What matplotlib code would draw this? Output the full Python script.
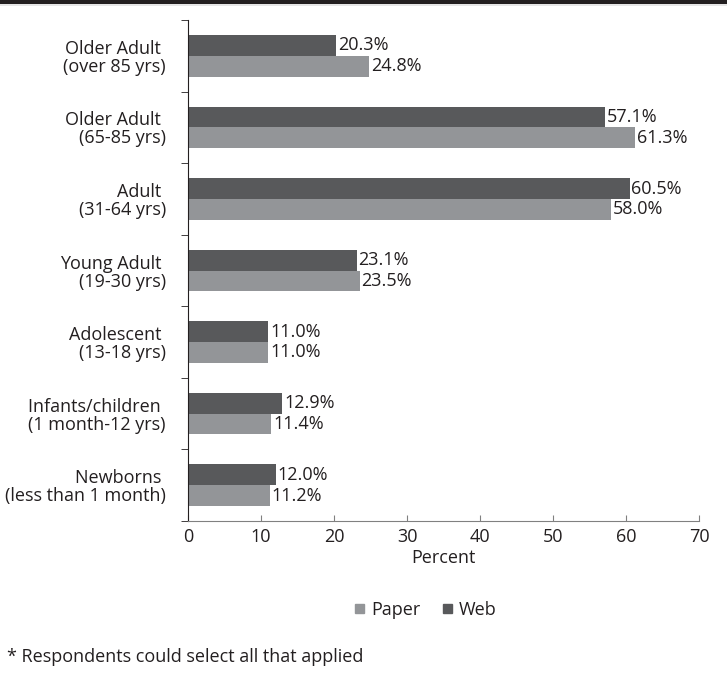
import matplotlib
matplotlib.use("Agg")
import matplotlib.pyplot as plt
from matplotlib.patches import Rectangle, Patch
import numpy as np

plt.rcParams["font.family"] = ["Open Sans", "DejaVu Sans"]
plt.rcParams["font.size"] = 13

categories = [
    "Older Adult \n(over 85 yrs)",
    "Older Adult \n(65-85 yrs)",
    "Adult \n(31-64 yrs)",
    "Young Adult \n(19-30 yrs)",
    "Adolescent \n(13-18 yrs)",
    "Infants/children \n(1 month-12 yrs)",
    "Newborns \n(less than 1 month)",
]
web = [20.3, 57.1, 60.5, 23.1, 11.0, 12.9, 12.0]
paper = [24.8, 61.3, 58.0, 23.5, 11.0, 11.4, 11.2]

TEXT = "#231f20"
WEB_C = "#58595b"
PAPER_C = "#939598"

fig = plt.figure(figsize=(7.27, 6.79), dpi=100)
ax = fig.add_axes([188 / 727, 1 - 521 / 679, 511 / 727, 501 / 679])

# dark band at top of the page
fig.add_artist(Rectangle((0, 1 - 4 / 679), 1, 4 / 679, transform=fig.transFigure,
                         color=TEXT, lw=0))
fig.add_artist(Rectangle((0, 1 - 5.5 / 679), 1, 1.5 / 679, transform=fig.transFigure,
                         color="#e6e6e6", lw=0))

y = np.arange(len(categories))
h = 0.29
bw = ax.barh(y - h / 2, web, height=h, color=WEB_C)
bp = ax.barh(y + h / 2, paper, height=h, color=PAPER_C)

for bars, vals in ((bw, web), (bp, paper)):
    for b, v in zip(bars, vals):
        ax.text(v + 0.25, b.get_y() + b.get_height() / 2, f"{v:.1f}%",
                va="center", ha="left", color=TEXT, fontsize=13)

ax.set_ylim(len(categories) - 0.5, -0.5)
ax.set_xlim(0, 70)
ax.set_xticks(range(0, 71, 10))
ax.set_yticks(y)
ax.set_yticklabels(categories, color=TEXT, multialignment="right", linespacing=1.0)
ax.set_yticks(np.arange(-0.5, len(categories)), minor=True)
ax.tick_params(axis="y", which="major", length=0, pad=16)
ax.tick_params(axis="y", which="minor", length=5, direction="out", color=TEXT)
ax.tick_params(axis="x", length=4, direction="in", color="#808080",
               labelcolor=TEXT, pad=5)

for s in ("top", "right"):
    ax.spines[s].set_visible(False)
ax.spines["left"].set_color(TEXT)
ax.spines["bottom"].set_color("#808080")
ax.set_xlabel("Percent", color=TEXT, labelpad=2)

handles = [Patch(color=PAPER_C, label="Paper"), Patch(color=WEB_C, label="Web")]
fig.legend(handles=handles, loc="center", bbox_to_anchor=(426 / 727, 1 - 610 / 679),
           ncol=2, frameon=False, handlelength=0.45, handleheight=0.45,
           handletextpad=0.4, columnspacing=1.3, fontsize=13, labelcolor=TEXT)

fig.text(7 / 727, 1 - 657 / 679, "* Respondents could select all that applied",
         ha="left", va="center", color=TEXT, fontsize=13)

fig.savefig("out.png", dpi=100)
